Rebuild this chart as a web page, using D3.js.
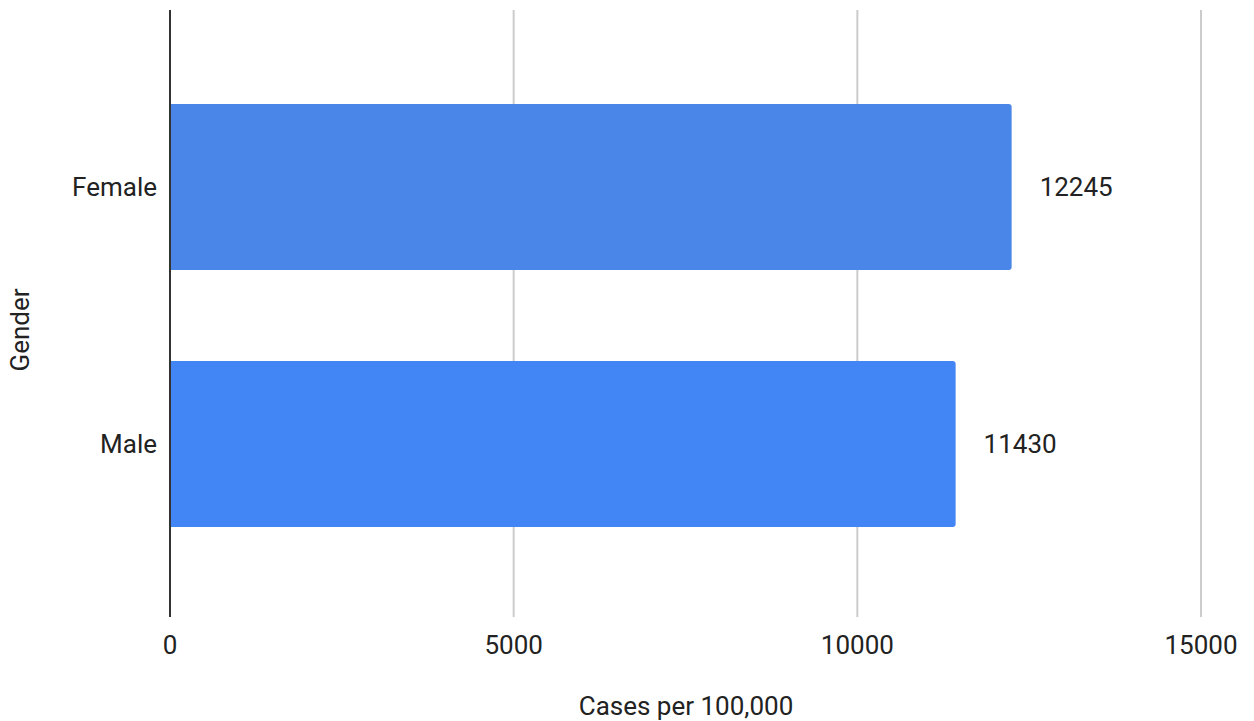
<!DOCTYPE html>
<html><head><meta charset="utf-8">
<script src="https://cdn.jsdelivr.net/npm/d3@7"></script>
<style>body{margin:0;background:#fff;} svg{display:block;font-family:Roboto,Arial,sans-serif;}</style>
</head><body>
<script>
const categories = ["Female", "Male"];
const values = [12245, 11430];
const barColors = ["#4a86e8", "#4285f4"];
const xTicks = [0, 5000, 10000, 15000];
const xTitle = "Cases per 100,000";
const yTitle = "Gender";

const W = 1254, H = 721;
const FS = 26;
const svg = d3.select("body").append("svg").attr("width", W).attr("height", H);
const plotTop = 10, plotBottom = 617;
const x = d3.scaleLinear().domain([0, 15000]).range([170, 1201]);
const y = d3.scaleBand().domain(categories).range([58.5, 572.5]).paddingInner(0.354).paddingOuter(0.177);

// gridlines
svg.append("g").selectAll("line").data(xTicks.filter(d => d > 0)).join("line")
  .attr("x1", d => x(d)).attr("x2", d => x(d))
  .attr("y1", plotTop).attr("y2", plotBottom)
  .attr("stroke", "#cccccc").attr("stroke-width", 2);

// bars with rounded right corners
const r = 3;
svg.append("g").selectAll("path").data(categories).join("path")
  .attr("d", (c, i) => {
    const x0 = x(0), x1 = x(values[i]), y0 = y(c), y1 = y(c) + y.bandwidth();
    return `M${x0},${y0}H${x1 - r}Q${x1},${y0} ${x1},${y0 + r}V${y1 - r}Q${x1},${y1} ${x1 - r},${y1}H${x0}Z`;
  })
  .attr("fill", (c, i) => barColors[i]);

// baseline axis
svg.append("line").attr("x1", x(0)).attr("x2", x(0)).attr("y1", plotTop).attr("y2", plotBottom)
  .attr("stroke", "#333").attr("stroke-width", 2);

// value labels
svg.append("g").selectAll("text").data(categories).join("text")
  .attr("x", (c, i) => x(values[i]) + 28)
  .attr("y", c => y(c) + y.bandwidth() / 2)
  .attr("dy", "0.35em")
  .attr("font-size", FS).attr("fill", "#222")
  .text((c, i) => values[i]);

// x tick labels
svg.append("g").selectAll("text").data(xTicks).join("text")
  .attr("x", d => x(d)).attr("y", 645).attr("dy", "0.35em")
  .attr("text-anchor", "middle").attr("font-size", FS).attr("fill", "#222")
  .text(d => d);

// y tick labels
svg.append("g").selectAll("text").data(categories).join("text")
  .attr("x", 157).attr("y", c => y(c) + y.bandwidth() / 2).attr("dy", "0.35em")
  .attr("text-anchor", "end").attr("font-size", FS).attr("fill", "#222")
  .text(c => c);

// axis titles
svg.append("text").attr("x", 686).attr("y", 706).attr("dy", "0.35em")
  .attr("text-anchor", "middle").attr("font-size", FS).attr("fill", "#222").text(xTitle);
svg.append("text").attr("transform", "translate(20,330) rotate(-90)").attr("dy", "0.35em")
  .attr("text-anchor", "middle").attr("font-size", FS).attr("fill", "#222").text(yTitle);
</script>
</body></html>
